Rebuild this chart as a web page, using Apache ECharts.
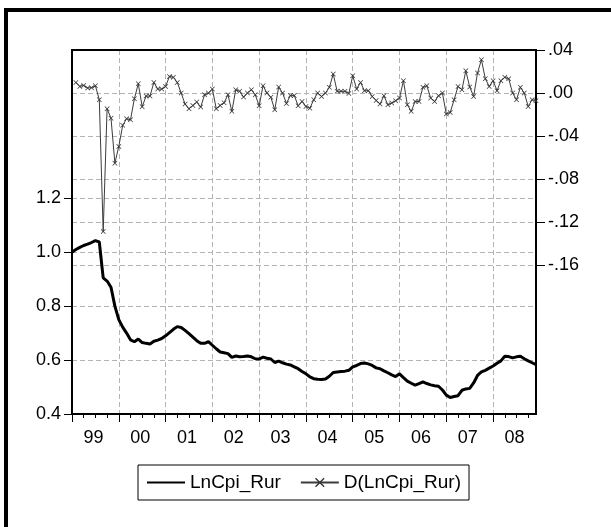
<!DOCTYPE html>
<html>
<head>
<meta charset="utf-8">
<script src="https://cdn.jsdelivr.net/npm/echarts@6/dist/echarts.min.js"></script>
<style>
  html, body { margin: 0; padding: 0; background: #fff; }
  #chart { width: 611px; height: 527px; }
</style>
</head>
<body>
<div id="chart"></div>
<script>
// Monthly rural CPI (log) 1999M01 - 2008M12 and its first difference
const lnCpiRur = [
  1.000, 1.010, 1.018, 1.025, 1.030, 1.036, 1.043, 1.038, 0.905, 0.893, 0.870, 0.800,
  0.750, 0.722, 0.700, 0.675, 0.668, 0.678, 0.665, 0.662, 0.660, 0.670, 0.674, 0.680,
  0.690, 0.702, 0.714, 0.724, 0.721, 0.710, 0.698, 0.685, 0.672, 0.662, 0.662, 0.668,
  0.655, 0.642, 0.630, 0.627, 0.624, 0.610, 0.615, 0.612, 0.613, 0.615, 0.612, 0.605,
  0.604, 0.611, 0.607, 0.604, 0.591, 0.596, 0.590, 0.585, 0.582, 0.575, 0.568, 0.558,
  0.549, 0.538, 0.531, 0.529, 0.528, 0.530, 0.540, 0.554, 0.556, 0.558, 0.559, 0.562,
  0.575, 0.580, 0.587, 0.589, 0.586, 0.580, 0.571, 0.568, 0.560, 0.553, 0.545, 0.539,
  0.549, 0.535, 0.522, 0.514, 0.507, 0.513, 0.519, 0.513, 0.508, 0.505, 0.503, 0.489,
  0.470, 0.461, 0.465, 0.468, 0.488, 0.493, 0.495, 0.515, 0.543, 0.556, 0.562, 0.570,
  0.578, 0.588, 0.597, 0.614, 0.613, 0.608, 0.612, 0.614, 0.605, 0.597, 0.590, 0.583
];
const dLnCpiRur = [
  null, 0.0099, 0.0062, 0.0071, 0.0047, 0.0050, 0.0068, -0.0062, -0.1287, -0.0146, -0.0233, -0.0651,
  -0.0496, -0.0300, -0.0239, -0.0248, -0.0053, 0.0087, -0.0127, -0.0028, -0.0028, 0.0099, 0.0037, 0.0037,
  0.0062, 0.0155, 0.0146, 0.0099, 0.0000, -0.0102, -0.0146, -0.0115, -0.0084, -0.0130, -0.0016, 0.0000,
  0.0037, -0.0146, -0.0115, -0.0090, -0.0016, -0.0170, 0.0031, 0.0016, -0.0037, 0.0000, 0.0031, -0.0016,
  -0.0118, 0.0068, 0.0000, -0.0040, -0.0155, 0.0056, 0.0000, -0.0096, -0.0022, -0.0022, -0.0118, -0.0078,
  -0.0124, -0.0140, -0.0062, 0.0000, -0.0031, 0.0000, 0.0053, 0.0177, 0.0016, 0.0016, 0.0016, -0.0003,
  0.0161, 0.0037, 0.0099, 0.0022, 0.0022, -0.0031, -0.0068, -0.0102, -0.0025, -0.0109, -0.0093, -0.0071,
  -0.0047, 0.0115, -0.0109, -0.0170, -0.0078, -0.0078, 0.0053, 0.0068, -0.0047, -0.0078, -0.0025, 0.0000,
  -0.0195, -0.0180, -0.0062, 0.0062, 0.0031, 0.0207, 0.0056, -0.0031, 0.0186, 0.0310, 0.0133, 0.0062,
  0.0115, 0.0022, 0.0115, 0.0146, 0.0133, 0.0000, -0.0062, 0.0053, 0.0000, -0.0124, -0.0062, -0.0071
];
const yearLabels = ['99', '00', '01', '02', '03', '04', '05', '06', '07', '08'];
const leftTicks = [0.4, 0.6, 0.8, 1.0, 1.2];
const rightTicks = [0.04, 0.00, -0.04, -0.08, -0.12, -0.16];

const FONT = '"Liberation Sans", Arial, sans-serif';
const FS = 18;

const lastIdx = lnCpiRur.length - 1;
const yearStarts = yearLabels.map((_, k) => k * 12);
const yearMids = yearLabels.map((_, k) => k * 12 + 5.5);
const quarterTicks = [];
yearStarts.forEach(s => { [3, 6, 9].forEach(q => { if (s + q <= lastIdx) quarterTicks.push(s + q); }); });

const lnData = lnCpiRur.map((v, i) => [i, v]);
const dData = dLnCpiRur.map((v, i) => [i, v]);

const fmtRight = v => {
  const s = Math.abs(v).toFixed(2).replace(/^0/, '');
  return (v < -1e-9 ? '-' : '') + s;
};

const dashed = { color: '#b4b4b4', width: 1, type: [5, 3] };
const xMark = 'path://M0,1 L1,0 L5,4 L9,0 L10,1 L6,5 L10,9 L9,10 L5,6 L1,10 L0,9 L4,5 Z';

const chart = echarts.init(document.getElementById('chart'), null, { renderer: 'canvas' });
chart.setOption({
  animation: false,
  backgroundColor: '#fff',
  textStyle: { fontFamily: FONT },
  graphic: [{
    type: 'rect',
    shape: { x: 6, y: 10, width: 720, height: 720 },
    style: { fill: 'none', stroke: '#000', lineWidth: 4 },
    silent: true,
    z: 100
  }],
  grid: {
    left: 72, top: 50, width: 464, height: 364,
    show: true, borderColor: '#000', borderWidth: 2, backgroundColor: 'transparent',
    containLabel: false
  },
  legend: {
    data: [
      { name: 'LnCpi_Rur', itemStyle: { opacity: 0 } },
      { name: 'D(LnCpi_Rur)' }
    ],
    left: 138, top: 465,
    orient: 'horizontal',
    borderColor: '#000', borderWidth: 1,
    padding: [8, 8, 8, 8],
    itemWidth: 38, itemHeight: 12, itemGap: 19,
    textStyle: { fontFamily: FONT, fontSize: 19, color: '#000' }
  },
  xAxis: [
    {
      type: 'value', min: 0, max: lastIdx, position: 'bottom',
      axisLine: { show: true, onZero: false, lineStyle: { color: '#000', width: 2 } },
      axisTick: { show: true, inside: false, length: 8, customValues: yearStarts, lineStyle: { color: '#000', width: 1 } },
      axisLabel: {
        show: true, customValues: yearMids, margin: 15,
        color: '#000', fontFamily: FONT, fontSize: FS,
        formatter: v => yearLabels[Math.round((v - 5.5) / 12)]
      },
      splitLine: { show: true, lineStyle: dashed }
    },
    {
      type: 'value', min: 0, max: lastIdx, position: 'bottom', offset: 0,
      axisLine: { show: false, onZero: false },
      axisTick: { show: true, inside: false, length: 4, customValues: quarterTicks, lineStyle: { color: '#000', width: 1 } },
      axisLabel: { show: false },
      splitLine: { show: false }
    },
    {
      // top edge of the plot frame
      type: 'value', min: 0, max: lastIdx, position: 'top', offset: 0,
      axisLine: { show: true, onZero: false, lineStyle: { color: '#000', width: 2 } },
      axisTick: { show: false },
      axisLabel: { show: false },
      splitLine: { show: false }
    }
  ],
  yAxis: [
    {
      type: 'value', position: 'left', min: 0.4, max: 1.750,
      axisLine: { show: true, onZero: false, lineStyle: { color: '#000', width: 2 } },
      axisTick: { show: true, inside: false, length: 8, customValues: leftTicks, lineStyle: { color: '#000', width: 1 } },
      axisLabel: {
        customValues: leftTicks, margin: 11, color: '#000', fontFamily: FONT, fontSize: FS,
        formatter: v => v.toFixed(1)
      },
      splitLine: { show: true, lineStyle: dashed }
    },
    {
      type: 'value', position: 'right', min: -0.2981, max: 0.04,
      axisLine: { show: true, onZero: false, lineStyle: { color: '#000', width: 2 } },
      axisTick: { show: true, inside: false, length: 9, customValues: rightTicks, lineStyle: { color: '#000', width: 1 } },
      axisLabel: {
        customValues: rightTicks, margin: 12, color: '#000', fontFamily: FONT, fontSize: FS,
        formatter: fmtRight
      },
      splitLine: { show: true, lineStyle: dashed }
    }
  ],
  series: [
    {
      name: 'LnCpi_Rur', type: 'line', xAxisIndex: 0, yAxisIndex: 0,
      data: lnData, showSymbol: false, symbol: 'none',
      lineStyle: { color: '#000', width: 3 },
      itemStyle: { color: '#000' },
      z: 3
    },
    {
      name: 'D(LnCpi_Rur)', type: 'line', xAxisIndex: 0, yAxisIndex: 1,
      data: dData, connectNulls: false,
      symbol: xMark, symbolSize: 5, showSymbol: true,
      lineStyle: { color: '#3c3c3c', width: 1 },
      itemStyle: { color: '#333' },
      z: 4
    }
  ]
});
</script>
</body>
</html>
